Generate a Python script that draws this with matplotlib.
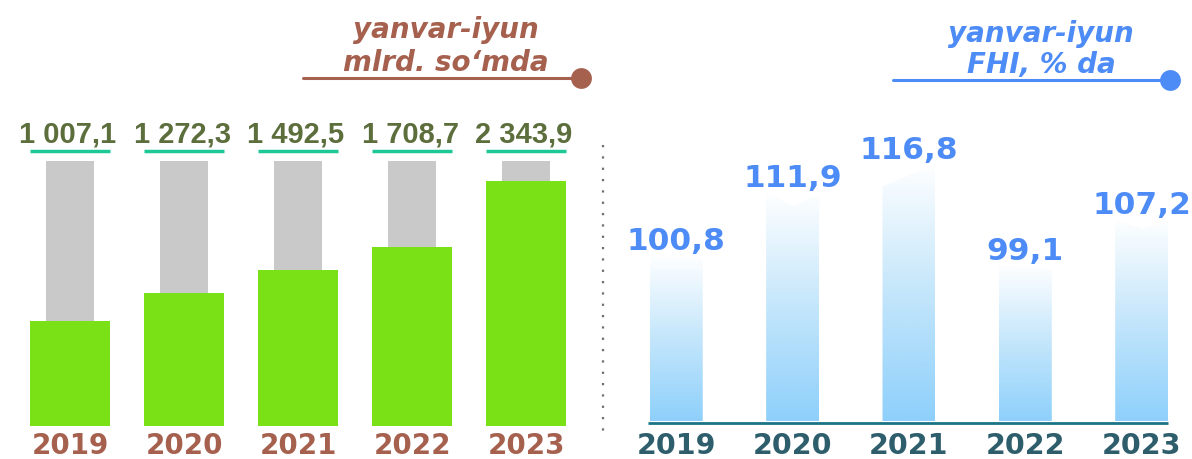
import numpy as np
import matplotlib
matplotlib.use("Agg")
import matplotlib.pyplot as plt
from matplotlib.patches import Polygon
from matplotlib.colors import LinearSegmentedColormap
from matplotlib.lines import Line2D
from matplotlib.transforms import offset_copy

# ---------------- data ----------------
years = ["2019", "2020", "2021", "2022", "2023"]
revenue = [1007.1, 1272.3, 1492.5, 1708.7, 2343.9]          # yanvar-iyun, mlrd. so'm
revenue_labels = ["1 007,1", "1 272,3", "1 492,5", "1 708,7", "2 343,9"]
fhi = [100.8, 111.9, 116.8, 99.1, 107.2]                      # yanvar-iyun, FHI %
fhi_labels = ["100,8", "111,9", "116,8", "99,1", "107,2"]
left_title = ["yanvar-iyun", "mlrd. so\u2018mda"]
right_title = ["yanvar-iyun", "FHI, % da"]

# ---------------- style ----------------
W, H = 1192, 459
GREEN = "#7AE116"
GRAY = "#C9C9C9"
TEAL_LINE = "#1DC796"
OLIVE = "#5D6E3D"
BROWN = "#A6604E"
BLUE = "#4D8BF6"
DARK_TEAL = "#2E5E6C"
BASE_LINE = "#1B7386"
BG_LEVEL = 2540          # height of the grey background columns
FHI_BASE = 71.6          # value at the bottom of the right panel
# decorative top shapes of the right bars: (fraction of width, drop in data units)
TOP_SHAPES = [
    [(0, 0), (0.7, 0), (1, -1.1)],
    [(0, 0), (0.5, -2.5), (1, -0.4)],
    [(0, -4.0), (1, 0)],
    [(0, -0.3), (0.5, 0), (1, -0.9)],
    [(0, 0), (0.5, -1.8), (1, -0.35)],
]

fig = plt.figure(figsize=(W / 100, H / 100), dpi=100)


def px_rect(x0, y_top, x1, y_bottom):
    return [x0 / W, 1 - y_bottom / H, (x1 - x0) / W, (y_bottom - y_top) / H]


# ---------------- left panel ----------------
axL = fig.add_axes(px_rect(13, 100, 583, 425.7))
axL.set_xlim(-0.5, 4.5)
axL.set_ylim(0, 3120)
axL.axis("off")
x = np.arange(len(years))
axL.bar(x, [BG_LEVEL] * len(years), width=0.42, color=GRAY, zorder=1)
axL.bar(x, revenue, width=0.70, color=GREEN, zorder=2)

up_tr = offset_copy(axL.transData, fig=fig, x=0, y=9.5, units="dots")
for i, lbl in enumerate(revenue_labels):
    axL.plot([i - 0.35, i + 0.35], [BG_LEVEL, BG_LEVEL], color=TEAL_LINE, lw=2.5,
             solid_capstyle="butt", transform=up_tr, clip_on=False, zorder=3)
    axL.annotate(lbl, xy=(i, BG_LEVEL), xytext=(-2, 18.2), textcoords="offset pixels",
                 ha="center", va="baseline", color=OLIVE, fontsize=21,
                 fontweight="bold", family="Liberation Sans", annotation_clip=False)
for i, yr in enumerate(years):
    axL.annotate(yr, xy=(i, 0), xytext=(0, -28.5), textcoords="offset pixels",
                 ha="center", va="baseline", color=BROWN, fontsize=20,
                 fontweight="bold", family="DejaVu Sans", annotation_clip=False)

# ---------------- right panel ----------------
axR = fig.add_axes(px_rect(618.1, 100, 1188.2, 421))
axR.axis("off")
bw = 0.455
cmap = LinearSegmentedColormap.from_list("skyfade", ["#8ED0FB", "#C4E6FB", "#FFFFFF"])
grad = np.linspace(0, 1, 256).reshape(-1, 1)
for i, v in enumerate(fhi):
    x0 = i - bw / 2
    pts = [(x0, FHI_BASE)] + [(x0 + fx * bw, v + dy) for fx, dy in TOP_SHAPES[i]] + [(x0 + bw, FHI_BASE)]
    poly = Polygon(pts, closed=True, facecolor="none", edgecolor="none")
    axR.add_patch(poly)
    im = axR.imshow(grad, cmap=cmap, extent=(x0, x0 + bw, FHI_BASE, v), origin="lower",
                    aspect="auto", zorder=2)
    im.set_clip_path(poly)
    axR.annotate(fhi_labels[i], xy=(i, v), xytext=(0, 5), textcoords="offset pixels",
                 ha="center", va="baseline", color=BLUE, fontsize=22.5,
                 fontweight="bold", family="DejaVu Sans", annotation_clip=False, zorder=4)
axR.set_xlim(-0.5, 4.4)
axR.set_ylim(FHI_BASE, 128.05)

down_tr = offset_copy(axR.transData, fig=fig, x=0, y=-2.3, units="dots")
axR.plot([-0.245, len(fhi) - 1 + bw / 2], [FHI_BASE, FHI_BASE], color=BASE_LINE, lw=2.0,
         transform=down_tr, clip_on=False, solid_capstyle="butt", zorder=3)
for i, yr in enumerate(years):
    axR.annotate(yr, xy=(i, FHI_BASE), xytext=(0, -33), textcoords="offset pixels",
                 ha="center", va="baseline", color=DARK_TEAL, fontsize=20.5,
                 fontweight="bold", family="DejaVu Sans", annotation_clip=False)

# ---------------- titles & decorations ----------------
def title_block(lines, cx, baselines, color, x0, x1, y_line, ms):
    for t, b in zip(lines, baselines):
        fig.text(cx / W, 1 - b / H, t, ha="center", va="baseline", color=color,
                 fontsize=20, fontweight="bold", fontstyle="italic", family="DejaVu Sans")
    fig.add_artist(Line2D([x0 / W, x1 / W], [1 - y_line / H] * 2, color=color, lw=2.2,
                          solid_capstyle="round"))
    fig.add_artist(Line2D([x1 / W], [1 - y_line / H], marker="o", ms=ms, color=color,
                          markeredgewidth=0))


title_block(left_title, 446, [38, 71], BROWN, 303, 581, 78, 15)
title_block(right_title, 1041, [42, 73], BLUE, 893, 1170, 80, 15)

# dotted separator
fig.add_artist(Line2D([602.5 / W] * 2, [1 - 144.7 / H, 1 - 432.7 / H], color="#6E6E6E",
                      lw=1.6, linestyle=(0, (1, 4.1)), solid_capstyle="butt",
                      dash_capstyle="butt"))

fig.savefig("out.png", dpi=100, facecolor="white")
